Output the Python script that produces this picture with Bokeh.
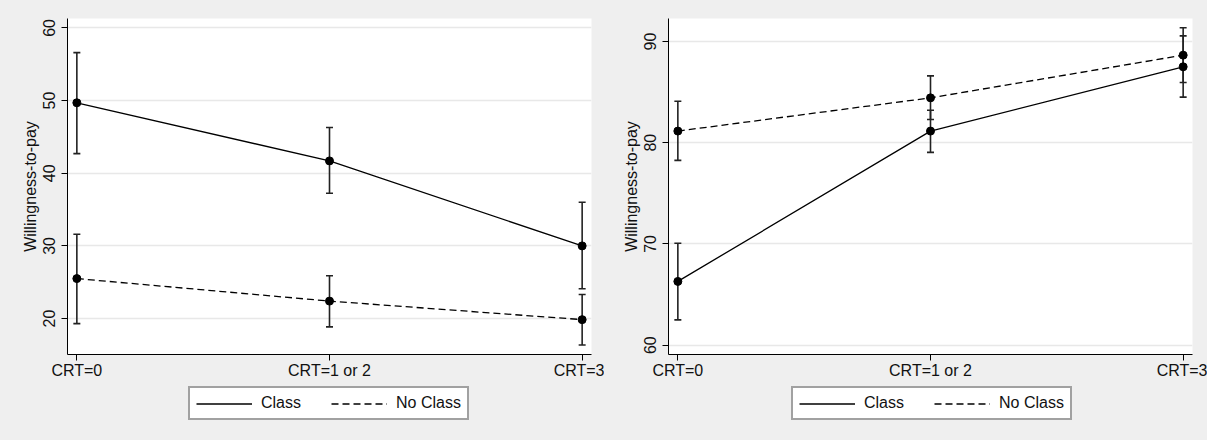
from bokeh.plotting import figure
from bokeh.models import (ColumnDataSource, Whisker, TeeHead, Legend, LegendItem,
                          FixedTicker, Range1d)
from bokeh.layouts import row, column
from bokeh.embed import file_html
from bokeh.resources import INLINE

# ---- data ----
categories = ["CRT=0", "CRT=1 or 2", "CRT=3"]
x_pos = [0, 1, 2]

left_class = [49.7, 41.7, 30.0]
left_class_lo = [42.7, 37.25, 24.1]
left_class_hi = [56.6, 46.3, 36.0]
left_noclass = [25.5, 22.4, 19.85]
left_noclass_lo = [19.3, 18.85, 16.35]
left_noclass_hi = [31.6, 25.9, 23.3]

right_class = [66.3, 81.15, 87.5]
right_class_lo = [62.5, 79.05, 84.5]
right_class_hi = [70.07, 83.2, 90.55]
right_noclass = [81.15, 84.43, 88.65]
right_noclass_lo = [78.26, 82.3, 85.95]
right_noclass_hi = [84.1, 86.6, 91.35]

left_yticks = [20, 30, 40, 50, 60]
right_yticks = [60, 70, 80, 90]

series_labels = ["Class", "No Class"]
y_label = "Willingness-to-pay"

FONT = "Liberation Sans"
BG = "#efefef"
INK = "#111111"
DASH = "7 4"


def make_panel(cls, cls_lo, cls_hi, ncl, ncl_lo, ncl_hi, yrange, yticks,
               border_left, border_right, legend_x):
    p = figure(frame_width=524, frame_height=336, output_backend="svg", toolbar_location=None,
               x_range=Range1d(-0.037, 2.037), y_range=Range1d(*yrange),
               min_border_left=border_left, min_border_right=border_right,
               min_border_top=18, min_border_bottom=30)
    p.border_fill_color = BG
    p.background_fill_color = "white"
    p.outline_line_color = None
    p.xgrid.grid_line_color = None
    p.ygrid.grid_line_color = "#e8e8e8"
    p.ygrid.grid_line_width = 1.5
    p.ygrid.ticker = FixedTicker(ticks=yticks)

    for ax in (p.xaxis[0], p.yaxis[0]):
        ax.axis_line_color = "black"
        ax.axis_line_width = 1
        ax.major_tick_line_color = "black"
        ax.major_tick_out = 6
        ax.major_tick_in = 0
        ax.minor_tick_line_color = None
        ax.major_label_text_font = FONT
        ax.major_label_text_font_size = "16px"
        ax.major_label_text_color = INK

    p.xaxis.ticker = FixedTicker(ticks=x_pos)
    p.xaxis.major_label_overrides = {x: c for x, c in zip(x_pos, categories)}
    p.xaxis.major_label_standoff = 1

    p.yaxis.ticker = FixedTicker(ticks=yticks)
    p.yaxis.major_label_orientation = "vertical"
    p.yaxis.major_label_standoff = 6
    p.yaxis.axis_label = y_label
    p.yaxis.axis_label_text_font = FONT
    p.yaxis.axis_label_text_font_size = "16px"
    p.yaxis.axis_label_text_font_style = "normal"
    p.yaxis.axis_label_text_color = INK
    p.yaxis.axis_label_standoff = 2

    src_c = ColumnDataSource(dict(x=x_pos, y=cls, lo=cls_lo, hi=cls_hi))
    src_n = ColumnDataSource(dict(x=x_pos, y=ncl, lo=ncl_lo, hi=ncl_hi))

    for src in (src_c, src_n):
        w = Whisker(source=src, base="x", lower="lo", upper="hi",
                    line_color="#222222", line_width=1.6,
                    upper_head=TeeHead(size=7, line_color="#222222", line_width=1.6),
                    lower_head=TeeHead(size=7, line_color="#222222", line_width=1.6))
        p.add_layout(w)

    p.line("x", "y", source=src_c, line_color="black", line_width=1.3)
    p.line("x", "y", source=src_n, line_color="black", line_width=1.3, line_dash=DASH)
    p.scatter("x", "y", source=src_c, size=8, fill_color="black", line_color="black")
    p.scatter("x", "y", source=src_n, size=8, fill_color="black", line_color="black")

    # legend strip below the plot (same gray background); its series lines
    # lie outside the strip's own view, only their legend keys show
    lg = figure(frame_width=524, frame_height=56, output_backend="svg", toolbar_location=None,
                x_range=Range1d(-0.037, 2.037), y_range=Range1d(-2, -1),
                x_axis_type=None, y_axis_type=None,
                min_border_left=border_left, min_border_right=border_right,
                min_border_top=0, min_border_bottom=0)
    lg.border_fill_color = BG
    lg.background_fill_color = BG
    lg.outline_line_color = None
    lg.grid.grid_line_color = None
    k_c = lg.line("x", "y", source=src_c, line_color="black", line_width=1.3)
    k_n = lg.line("x", "y", source=src_n, line_color="black", line_width=1.3, line_dash=DASH)
    legend = Legend(items=[LegendItem(label=series_labels[0], renderers=[k_c]),
                           LegendItem(label=series_labels[1], renderers=[k_n])],
                    orientation="horizontal", location=(legend_x, 20),
                    label_text_font=FONT, label_text_font_size="16px", label_text_color=INK,
                    glyph_width=56, glyph_height=17, label_height=17, label_standoff=9,
                    spacing=30, padding=6, margin=0,
                    border_line_color="#444444", border_line_width=2,
                    background_fill_color="white", background_fill_alpha=1.0)
    lg.add_layout(legend)
    return column(p, lg, spacing=0, styles={"background-color": BG})


c1 = make_panel(left_class, left_class_lo, left_class_hi,
                left_noclass, left_noclass_lo, left_noclass_hi,
                (15.05, 61.3), left_yticks, 67, 13, 121)
c2 = make_panel(right_class, right_class_lo, right_class_hi,
                right_noclass, right_noclass_lo, right_noclass_hi,
                (59.08, 92.27), right_yticks, 64, 15, 123)

layout = row(c1, c2, spacing=0, styles={"background-color": BG})
open("out.html", "w").write(file_html(layout, INLINE))
